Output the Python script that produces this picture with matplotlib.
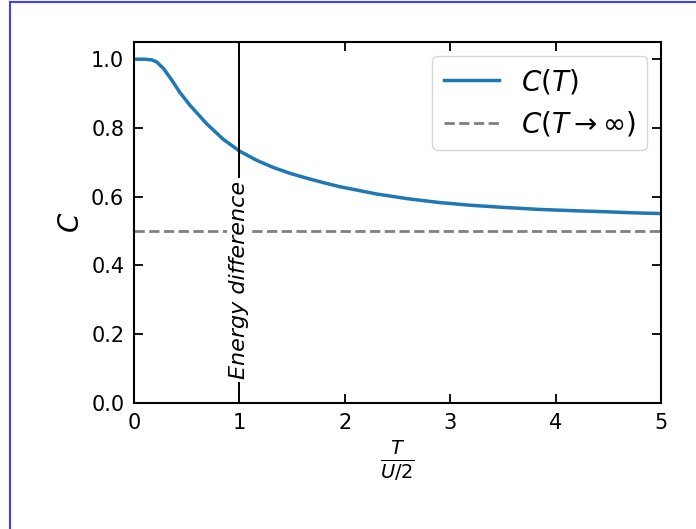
import matplotlib
matplotlib.use("Agg")
import matplotlib.pyplot as plt
from matplotlib.lines import Line2D

# values
T = [0.0, 0.1, 0.168, 0.215, 0.28, 0.357, 0.436, 0.531, 0.69, 0.847, 1.0,
     1.164, 1.322, 1.48, 1.638, 1.796, 1.954, 2.3, 2.6, 2.9, 3.2, 3.5, 3.85,
     4.2, 4.5, 4.75, 5.0]
C = [1.0, 1.0, 0.998, 0.992, 0.973, 0.940, 0.903, 0.866, 0.812, 0.767, 0.733,
     0.706, 0.685, 0.668, 0.654, 0.641, 0.629, 0.608, 0.594, 0.583, 0.575,
     0.569, 0.563, 0.559, 0.556, 0.553, 0.551]
C_inf = 0.5
energy_diff = 1.0

fig = plt.figure(figsize=(6.96, 5.29), dpi=100)
ax = fig.add_axes([0.1925, 0.2382, 0.7572, 0.6824])

ax.plot(T, C, color='#1f77b4', lw=2.5, label=r'$C(T)$')
ax.axhline(C_inf, color='gray', ls='--', lw=2, label=r'$C(T\to\infty)$')
ax.axvline(energy_diff, color='black', lw=1.4)
ax.text(energy_diff, 0.07, 'Energy difference', rotation=90, style='italic',
        fontsize=16, ha='center', va='bottom',
        bbox=dict(facecolor='white', edgecolor='none', pad=2))

ax.set_xlim(0, 5)
ax.set_ylim(0, 1.05)
ax.set_yticks([0.0, 0.2, 0.4, 0.6, 0.8, 1.0])
ax.set_xticks([0, 1, 2, 3, 4, 5])
ax.tick_params(direction='in', top=True, right=True, length=6.5, width=1.3,
               labelsize=15, pad=7)
for s in ax.spines.values():
    s.set_linewidth(1.5)

ax.set_xlabel(r'$\frac{T}{U/2}$', fontsize=20, labelpad=4)
ax.set_ylabel(r'$C$', fontsize=20)
ax.legend(loc='upper right', fontsize=20)

# blue frame from the screenshot
fig.add_artist(Line2D([10/696, 10/696], [0, 1 - 2/529], color='#4040ff', lw=1.5))
fig.add_artist(Line2D([10/696, 1], [1 - 2/529, 1 - 2/529], color='#4040ff', lw=1.5))

fig.savefig('out.png', dpi=100)
